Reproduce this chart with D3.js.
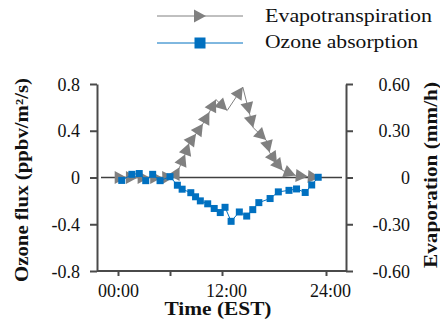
<!DOCTYPE html>
<html lang="en">
<head>
<meta charset="utf-8">
<title>Ozone flux and evapotranspiration</title>
<script src="https://cdn.jsdelivr.net/npm/d3@7"></script>
<style>
  body { margin: 0; background: #fff; }
  svg text { font-family: "Liberation Serif", "Times New Roman", serif; fill: #111; }
</style>
</head>
<body>
<script>
// hours (EST) and values
var evapHours = [0, 1.0, 2.3, 3.65, 5.1, 6.5, 7.1, 7.75, 8.2, 9.0, 9.8, 10.55, 11.3, 12.6, 14.4, 15.2, 15.6, 17.1, 17.5, 18.35, 19.0, 20.5, 21.9, 23.3];
var evapValues = [0, 0, 0, 0, 0, 0.003, 0.065, 0.15, 0.22, 0.28, 0.345, 0.42, 0.50, 0.43, 0.58, 0.405, 0.32, 0.24, 0.16, 0.09, 0.045, 0.013, 0.006, 0.0];

var ozoneHours = [0.43, 1.6, 2.45, 3.2, 4.0, 4.85, 6.0, 6.85, 7.4, 8.4, 8.95, 9.5, 10.35, 11.1, 11.8, 12.35, 13.05, 14.0, 14.85, 15.55, 16.25, 17.55, 18.5, 19.73, 20.6, 21.6, 22.35, 23.1];
var ozoneValues = [-0.025, 0.027, 0.034, -0.027, 0.027, -0.027, 0.007, -0.066, -0.10, -0.13, -0.165, -0.20, -0.225, -0.265, -0.30, -0.255, -0.375, -0.295, -0.33, -0.275, -0.215, -0.18, -0.123, -0.11, -0.098, -0.128, -0.064, 0.002];

var leftTicks = [-0.8, -0.4, 0, 0.4, 0.8];
var rightTicks = [-0.6, -0.3, 0, 0.3, 0.6];
var xTicks = [0, 6, 12, 24];
var xLabels = {0: "00:00", 12: "12:00", 24: "24:00"};

var width = 440, height = 333;
var gray = "#808080", blue = "#0070c0", axisColor = "#4a4a4a";

var svg = d3.select("body").append("svg")
  .attr("width", width)
  .attr("height", height);

var x = d3.scaleLinear().domain([0, 24]).range([118, 326]);
var yL = d3.scaleLinear().domain([-0.8, 0.8]).range([271, 84]);
var yR = d3.scaleLinear().domain([-0.6, 0.6]).range([271, 84]);

function fmt(d) { return d === 0 ? "0" : String(d); }
function fmt2(d) { return d === 0 ? "0" : d.toFixed(2); }

// zero line
svg.append("line")
  .attr("x1", 101).attr("x2", 342)
  .attr("y1", yL(0)).attr("y2", yL(0))
  .attr("stroke", "#404040").attr("stroke-width", 1.5);

// left axis
var gl = svg.append("g").attr("transform", "translate(97,0)")
  .call(d3.axisLeft(yL).tickValues(leftTicks).tickFormat(fmt).tickSize(7).tickSizeOuter(0).tickPadding(10));
// right axis
var gr = svg.append("g").attr("transform", "translate(346,0)")
  .call(d3.axisRight(yR).tickValues(rightTicks).tickFormat(fmt2).tickSize(7).tickSizeOuter(0).tickPadding(10));
gr.selectAll(".tick text").attr("text-anchor", "end").attr("x", 64);
// bottom axis
var gb = svg.append("g").attr("transform", "translate(0,271)")
  .call(d3.axisBottom(x).tickValues(xTicks).tickFormat(function(d) { return xLabels[d] || ""; })
    .tickSize(5).tickSizeOuter(0).tickPadding(8));
gb.selectAll(".tick text").attr("dx", function(d) { return d > 0 ? 4 : 0; });
gb.select(".domain").attr("d", "M97,0H346");

[gl, gr, gb].forEach(function(g) {
  g.attr("font-family", null);
  g.selectAll(".domain").attr("stroke", axisColor).attr("stroke-width", 2);
  g.selectAll(".tick line").attr("stroke", axisColor).attr("stroke-width", 2);
  g.selectAll(".tick text")
    .style("font-family", "'Liberation Serif', serif").style("font-size", "18px")
    .attr("fill", "#111");
});
gl.selectAll(".tick text").attr("dy", "0.34em");
gr.selectAll(".tick text").attr("dy", "0.34em");

// axis titles
svg.append("text")
  .attr("transform", "translate(28,180) rotate(-90)")
  .attr("text-anchor", "middle")
  .attr("textLength", 204).attr("lengthAdjust", "spacingAndGlyphs")
  .style("font-size", "18px").style("font-weight", "bold")
  .text("Ozone flux (ppbv/m\u00b2/s)");
svg.append("text")
  .attr("transform", "translate(437,175) rotate(-90)")
  .attr("text-anchor", "middle")
  .attr("textLength", 186).attr("lengthAdjust", "spacingAndGlyphs")
  .style("font-size", "18px").style("font-weight", "bold")
  .text("Evaporation (mm/h)");
svg.append("text")
  .attr("x", 218).attr("y", 315)
  .attr("text-anchor", "middle")
  .attr("textLength", 107).attr("lengthAdjust", "spacingAndGlyphs")
  .style("font-size", "18px").style("font-weight", "bold")
  .text("Time (EST)");

// evapotranspiration: line with arrow heads at each point
var evap = evapHours.map(function(h, i) { return [x(h), yR(evapValues[i])]; });
svg.append("path")
  .attr("d", d3.line()(evap))
  .attr("fill", "none").attr("stroke", gray).attr("stroke-width", 1);
svg.selectAll(".tri")
  .data(evap.slice(1))
  .enter().append("path")
  .attr("class", "tri")
  .attr("d", "M0,0L-12,-6.5L-12,6.5Z")
  .attr("fill", gray)
  .attr("transform", function(p, i) {
    var q = evap[i];
    var a = Math.atan2(p[1] - q[1], p[0] - q[0]) * 180 / Math.PI;
    return "translate(" + p[0] + "," + p[1] + ") rotate(" + a + ")";
  });

// ozone absorption
var ozone = ozoneHours.map(function(h, i) { return [x(h), yL(ozoneValues[i])]; });
svg.append("path")
  .attr("d", d3.line()(ozone))
  .attr("fill", "none").attr("stroke", blue).attr("stroke-width", 1);
svg.selectAll(".sq")
  .data(ozone)
  .enter().append("rect")
  .attr("class", "sq")
  .attr("x", function(p) { return p[0] - 3.5; })
  .attr("y", function(p) { return p[1] - 3.5; })
  .attr("width", 7).attr("height", 7)
  .attr("fill", blue);

// legend
var lg = svg.append("g");
lg.append("line").attr("x1", 157).attr("x2", 243).attr("y1", 16).attr("y2", 16)
  .attr("stroke", gray).attr("stroke-width", 1);
lg.append("path").attr("d", "M0,0L-12,-6.5L-12,6.5Z").attr("fill", gray)
  .attr("transform", "translate(206,16)");
lg.append("text").attr("x", 265).attr("y", 22)
  .attr("textLength", 167).attr("lengthAdjust", "spacingAndGlyphs")
  .style("font-size", "19px").text("Evapotranspiration");
lg.append("line").attr("x1", 157).attr("x2", 243).attr("y1", 43).attr("y2", 43)
  .attr("stroke", blue).attr("stroke-width", 1);
lg.append("rect").attr("x", 194.5).attr("y", 37.5).attr("width", 11).attr("height", 11).attr("fill", blue);
lg.append("text").attr("x", 265).attr("y", 48)
  .attr("textLength", 153).attr("lengthAdjust", "spacingAndGlyphs")
  .style("font-size", "19px").text("Ozone absorption");
</script>
</body>
</html>
